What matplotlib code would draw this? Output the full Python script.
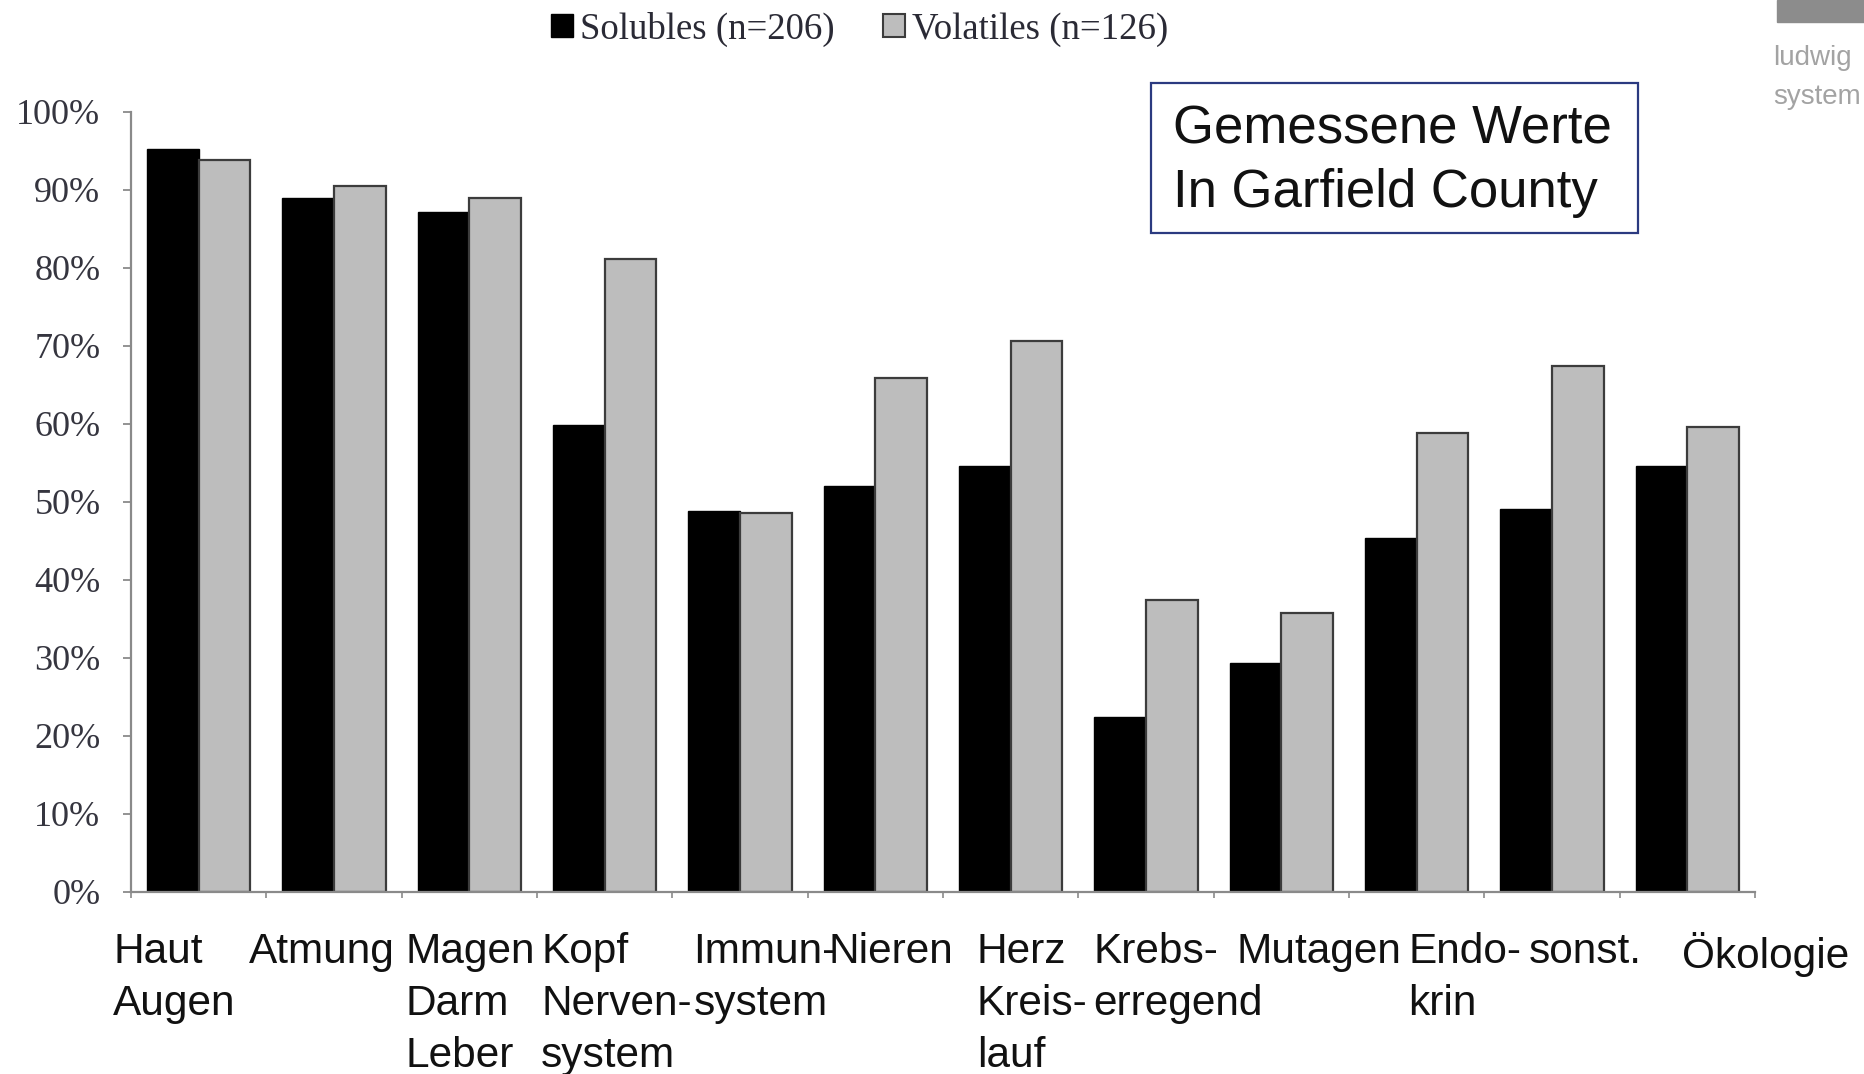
import numpy as np
import matplotlib.pyplot as plt
from matplotlib.patches import Rectangle, Patch
from matplotlib.ticker import FixedLocator, PercentFormatter
import matplotlib.transforms as mtransforms

categories = ['Haut\nAugen', 'Atmung', 'Magen\nDarm\nLeber', 'Kopf\nNerven-\nsystem',
              'Immun-\nsystem', 'Nieren', 'Herz\nKreis-\nlauf', 'Krebs-\nerregend',
              'Mutagen', 'Endo-\nkrin', 'sonst.', 'Ökologie']
solubles = [95.3, 89.0, 87.2, 59.9, 48.8, 52.1, 54.6, 22.4, 29.3, 45.4, 49.1, 54.6]
volatiles = [93.8, 90.5, 89.0, 81.1, 48.6, 65.9, 70.7, 37.5, 35.8, 58.8, 67.5, 59.6]
series_names = ['Solubles (n=206)', 'Volatiles (n=126)']
yticks = np.arange(0, 101, 10)

# label left edges, measured from each slot's left boundary (slot units)
label_shift = [-0.13, -0.13, 0.03, 0.03, 0.155, 0.155, 0.25, 0.11, 0.17, 0.44, 0.33, 0.46]

SANS = ['Liberation Sans', 'DejaVu Sans']
SERIF = ['Liberation Serif', 'DejaVu Serif']
AXIS_GRAY = '#8a8a8a'
H = 1074

fig = plt.figure(figsize=(18.65, 10.74), dpi=100)
ax = fig.add_axes([131 / 1865, 182 / H, (1755 - 131) / 1865, (892 - 112) / H])

x = np.arange(len(categories))
w = 0.382
ax.bar(x - w / 2, solubles, w, color='black', edgecolor='black', linewidth=1.0)
ax.bar(x + w / 2, volatiles, w, color='#bdbdbd', edgecolor='#3c3c3c', linewidth=1.6)

ax.set_xlim(-0.5, len(categories) - 0.5)
ax.set_ylim(0, 100)
for s in ['top', 'right']:
    ax.spines[s].set_visible(False)
for s in ['left', 'bottom']:
    ax.spines[s].set_color(AXIS_GRAY)
    ax.spines[s].set_linewidth(1.6)

ax.yaxis.set_major_locator(FixedLocator(yticks))
ax.yaxis.set_major_formatter(PercentFormatter(decimals=0))
ax.tick_params(axis='y', length=6, width=1.3, color=AXIS_GRAY, pad=16,
               labelsize=26, labelcolor='#35353f')
for t in ax.get_yticklabels():
    t.set_family(SERIF)

ax.set_xticks([])
ax.xaxis.set_minor_locator(FixedLocator(np.arange(len(categories) + 1) - 0.5))
ax.tick_params(axis='x', which='minor', length=4, width=1.2, color=AXIS_GRAY)

# category labels, one text per line so the lines can interleave like the original
trans = mtransforms.blended_transform_factory(ax.transData, fig.transFigure)
for i, lab in enumerate(categories):
    for j, line in enumerate(lab.split('\n')):
        ax.text(i - 0.5 + label_shift[i], 1 - (932 + 52 * j) / H, line, transform=trans,
                ha='left', va='top', fontsize=30.5, family=SANS, color='#111111')

handles = [Patch(facecolor='black', edgecolor='black'),
           Patch(facecolor='#bdbdbd', edgecolor='#3c3c3c', linewidth=1.5)]
fig.legend(handles, series_names, loc='center', bbox_to_anchor=(0.461, 0.973), ncol=2,
           frameon=False, prop={'family': SERIF, 'size': 26.5}, labelcolor='#2a2a35',
           handlelength=0.6, handleheight=0.6, handletextpad=0.2, columnspacing=1.3)

# annotation box
fig.patches.append(Rectangle((1151 / 1865, 1 - 233 / H), (1638 - 1151) / 1865, 150 / H,
                             transform=fig.transFigure, fill=False,
                             edgecolor='#2b3a80', linewidth=1.6))
fig.text(1173 / 1865, 1 - 104 / H, 'Gemessene Werte', ha='left', va='top',
         fontsize=38, family=SANS, color='#111111')
fig.text(1173 / 1865, 1 - 168 / H, 'In Garfield County', ha='left', va='top',
         fontsize=38, family=SANS, color='#111111')

# corner watermark
fig.patches.append(Rectangle((1777 / 1865, 1 - 22 / H), 88 / 1865, 22 / H,
                             transform=fig.transFigure, color='#8c8c8c'))
fig.text(1773 / 1865, 1 - 45 / H, 'ludwig', ha='left', va='top',
         fontsize=20, family=SANS, color='#a3a3a3')
fig.text(1773 / 1865, 1 - 84 / H, 'system', ha='left', va='top',
         fontsize=20, family=SANS, color='#a3a3a3')

fig.savefig('out.png', dpi=100)
